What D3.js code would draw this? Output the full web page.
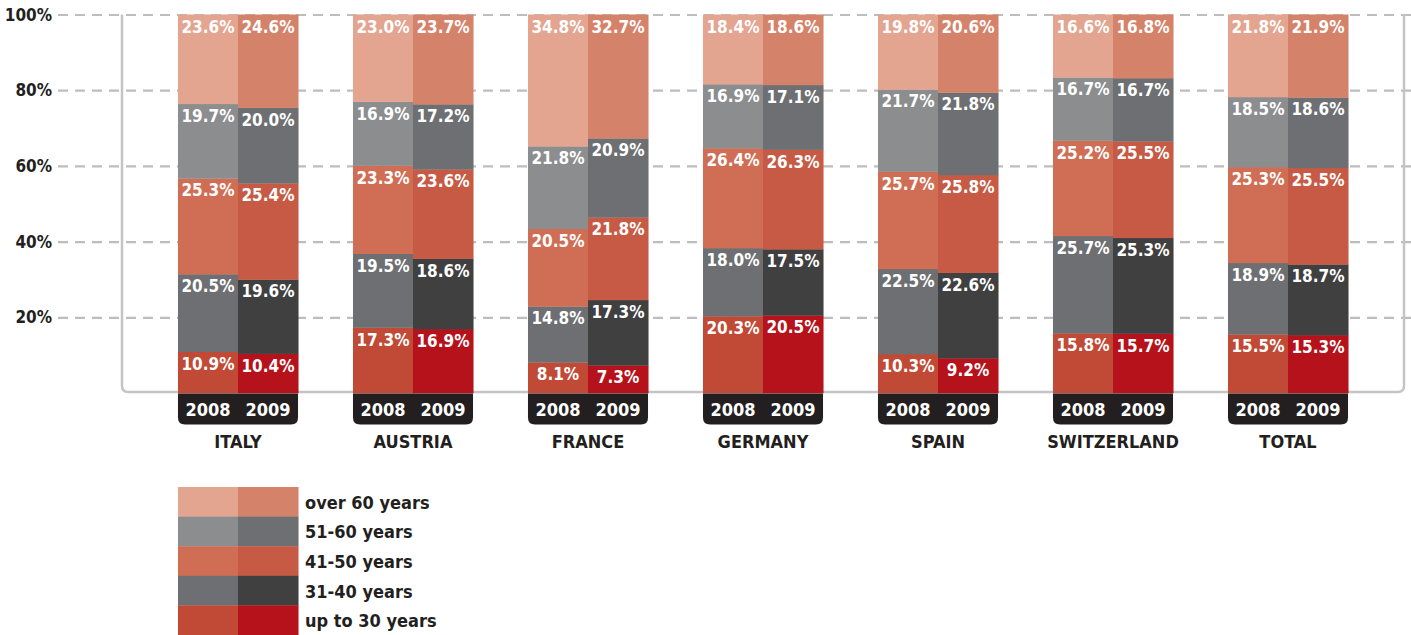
<!DOCTYPE html>
<html>
<head>
<meta charset="utf-8">
<script src="https://cdnjs.cloudflare.com/ajax/libs/d3/7.8.5/d3.min.js"></script>
<style>
  body { margin: 0; background: #fff; }
  svg text { font-family: "Liberation Sans Narrow", "DejaVu Sans Condensed", "Roboto", sans-serif; font-weight: bold; }
</style>
</head>
<body>
<div id="chart"></div>
<script>
// chart data
const countries = ['ITALY', 'AUSTRIA', 'FRANCE', 'GERMANY', 'SPAIN', 'SWITZERLAND', 'TOTAL']
const years = ['2008', '2009']
const ageGroups = ['up to 30 years', '31-40 years', '41-50 years', '51-60 years', 'over 60 years']
const yTicks = [20, 40, 60, 80, 100]

// shares per country, bottom segment first
const values2008 = [
  [10.9, 20.5, 25.3, 19.7, 23.6],
  [17.3, 19.5, 23.3, 16.9, 23.0],
  [8.1, 14.8, 20.5, 21.8, 34.8],
  [20.3, 18.0, 26.4, 16.9, 18.4],
  [10.3, 22.5, 25.7, 21.7, 19.8],
  [15.8, 25.7, 25.2, 16.7, 16.6],
  [15.5, 18.9, 25.3, 18.5, 21.8]
]
const values2009 = [
  [10.4, 19.6, 25.4, 20.0, 24.6],
  [16.9, 18.6, 23.6, 17.2, 23.7],
  [7.3, 17.3, 21.8, 20.9, 32.7],
  [20.5, 17.5, 26.3, 17.1, 18.6],
  [9.2, 22.6, 25.8, 21.8, 20.6],
  [15.7, 25.3, 25.5, 16.7, 16.8],
  [15.3, 18.7, 25.5, 18.6, 21.9]
]

const colors = {
  '2008': ['#c04a35', '#6e6f72', '#d06e55', '#8c8d8f', '#e3a490'],
  '2009': ['#b5121b', '#404041', '#c65a45', '#6e6f72', '#d5826a']
}

const config = {
  width: 1411,
  height: 635,
  plotTop: 14.5,
  plotBottom: 393,
  frameLeft: 122,
  frameRight: 1404,
  yearBoxHeight: 31,
  legendTop: 487,
  legendRow: 29.6
}

const svg = d3.select('#chart').append('svg')
    .attr('width', config.width)
    .attr('height', config.height)

const y = d3.scaleLinear()
    .domain([0, 100])
    .range([config.plotBottom, config.plotTop])

const x = d3.scaleBand()
    .domain(countries)
    .range([150.5, 1375.5])
    .paddingInner(0.314)
    .paddingOuter(0.157)

const xYear = d3.scaleBand()
    .domain(years)
    .range([0, x.bandwidth()])

// grid
svg.append('g')
    .attr('transform', 'translate(58,0)')
    .call(d3.axisLeft(y).tickValues(yTicks).tickSize(-(config.width - 58)).tickFormat(''))
    .call(g => g.select('.domain').remove())
    .call(g => g.selectAll('.tick line')
        .attr('stroke', '#bdbdbd')
        .attr('stroke-width', 2.2)
        .attr('stroke-dasharray', '10,7'))

// y labels
svg.append('g').selectAll('text')
    .data(yTicks)
    .enter().append('text')
    .attr('x', 52)
    .attr('y', d => y(d) + 6)
    .attr('text-anchor', 'end')
    .attr('fill', '#231f20')
    .style('font-size', '17px')
    .text(d => d + '%')

// frame
const r = 6
svg.append('path')
    .attr('d', `M${config.frameLeft},${config.plotTop} V${config.plotBottom - 1 - r} q0,${r} ${r},${r} H${config.frameRight - r} q${r},0 ${r},${-r} V${config.plotTop}`)
    .attr('fill', 'none')
    .attr('stroke', '#c4c4c4')
    .attr('stroke-width', 2.5)

// stacked segments
const stackRows = countries.map((c, i) => {
  const out = []
  years.forEach(yr => {
    const vals = yr === '2008' ? values2008[i] : values2009[i]
    let acc = 0
    vals.forEach((v, k) => {
      out.push({ country: c, year: yr, k, v, y0: acc, y1: acc + v })
      acc += v
    })
  })
  return out
}).flat()

const groups = svg.selectAll('.seg')
    .data(stackRows)
    .enter().append('g')
    .attr('class', 'seg')
    .attr('transform', d => `translate(${x(d.country) + xYear(d.year)},0)`)

groups.append('rect')
    .attr('x', 0)
    .attr('y', d => y(d.y1))
    .attr('width', xYear.bandwidth() + 0.5)
    .attr('height', d => y(d.y0) - y(d.y1) + 0.3)
    .attr('fill', d => colors[d.year][d.k])

groups.append('text')
    .attr('x', xYear.bandwidth() / 2)
    .attr('y', d => y(d.y1) + 18)
    .attr('text-anchor', 'middle')
    .attr('fill', '#fff')
    .style('font-size', '17px')
    .text(d => d.v.toFixed(1) + '%')

// year boxes
const yb = config.plotBottom + 0.5
const rb = 7
const boxes = svg.selectAll('.yearbox')
    .data(countries)
    .enter().append('g')
    .attr('class', 'yearbox')
    .attr('transform', d => `translate(${x(d)},${yb})`)

boxes.append('path')
    .attr('d', `M0,0 H${x.bandwidth()} V${config.yearBoxHeight - rb} q0,${rb} ${-rb},${rb} H${rb} q${-rb},0 ${-rb},${-rb} Z`)
    .attr('fill', '#231f20')

boxes.selectAll('text')
    .data(years)
    .enter().append('text')
    .attr('x', d => xYear(d) + xYear.bandwidth() / 2)
    .attr('y', 22)
    .attr('text-anchor', 'middle')
    .attr('fill', '#fff')
    .style('font-size', '18px')
    .text(d => d)

// country labels
svg.append('g').selectAll('text')
    .data(countries)
    .enter().append('text')
    .attr('x', d => x(d) + x.bandwidth() / 2)
    .attr('y', 448)
    .attr('text-anchor', 'middle')
    .attr('fill', '#231f20')
    .style('font-size', '18px')
    .text(d => d)

// legend
const legendOrder = ageGroups.slice().reverse()
const ly = d3.scaleBand()
    .domain(legendOrder)
    .range([config.legendTop, config.legendTop + config.legendRow * legendOrder.length])

const legend = svg.append('g')
    .attr('transform', `translate(${x(countries[0])},0)`)

legendOrder.forEach(name => {
  const k = ageGroups.indexOf(name)
  years.forEach(yr => {
    legend.append('rect')
        .attr('x', xYear(yr))
        .attr('y', ly(name))
        .attr('width', xYear.bandwidth() + 0.5)
        .attr('height', ly.bandwidth() + 0.3)
        .attr('fill', colors[yr][k])
  })
  legend.append('text')
      .attr('x', x.bandwidth() + 7)
      .attr('y', ly(name) + ly.bandwidth() / 2 + 7)
      .attr('fill', '#231f20')
      .style('font-size', '18px')
      .text(name)
})
</script>
</body>
</html>
